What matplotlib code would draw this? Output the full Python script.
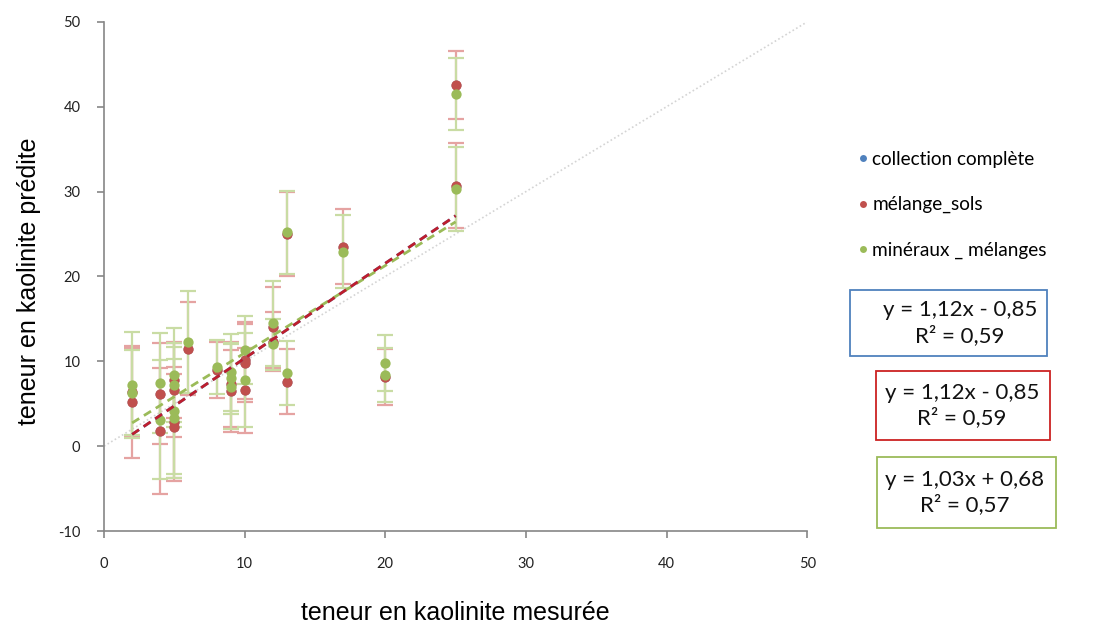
import matplotlib.pyplot as plt
from matplotlib.lines import Line2D
from matplotlib.patches import Rectangle

# measured kaolinite content (x) and predicted (y), with error bars
sols_x = [2, 2, 4, 4, 5, 5, 5, 5, 6, 8, 9, 9, 10, 10, 10, 12, 12, 13, 13, 17, 20, 25, 25]
sols_y = [6.4, 5.2, 6.2, 1.8, 7.8, 6.6, 2.8, 2.2, 11.5, 9.0, 7.3, 6.5, 10.1, 9.8, 6.6,
          14.0, 12.3, 7.6, 25.0, 23.5, 8.2, 42.6, 30.7]
sols_err = [5.2, 6.6, 6.0, 7.4, 4.5, 5.5, 6.5, 6.3, 5.5, 3.3, 5.0, 4.8, 4.5, 4.6, 5.0,
            4.8, 3.5, 3.8, 4.9, 4.4, 3.3, 4.0, 5.0]

mix_x = [2, 2, 4, 4, 5, 5, 5, 5, 6, 8, 9, 9, 9, 10, 10, 12, 12, 13, 13, 17, 20, 20, 25, 25]
mix_y = [7.2, 6.3, 7.4, 3.1, 8.4, 7.2, 4.2, 3.3, 12.3, 9.3, 8.7, 8.0, 7.0, 11.3, 7.8,
         14.5, 12.0, 8.6, 25.2, 22.9, 9.8, 8.4, 41.5, 30.3]
mix_err = [6.2, 5.0, 5.9, 7.0, 5.5, 5.0, 7.5, 7.0, 6.0, 3.2, 4.5, 4.2, 5.0, 4.0, 5.5,
           5.0, 3.0, 3.8, 4.9, 4.3, 3.3, 3.2, 4.2, 5.0]

# trendlines (slope, intercept) as reported in the chart
fit_all = (1.12, -0.85)
fit_sols = (1.12, -0.85)
fit_mix = (1.03, 0.68)
fit_range = [2, 25]

labels = ["collection complète", "mélange_sols", "minéraux _ mélanges"]
eq_texts = ["y = 1,12x - 0,85\nR² = 0,59",
            "y = 1,12x - 0,85\nR² = 0,59",
            "y = 1,03x + 0,68\nR² = 0,57"]

blue = "#4F81BD"
red = "#C0504D"
green = "#9BBB59"

plt.rcParams["font.family"] = ["Lato", "DejaVu Sans"]
plt.rcParams["axes.unicode_minus"] = False

fig = plt.figure(figsize=(11.04, 6.24), dpi=100)
ax = fig.add_axes([0.0942, 0.149, 0.637, 0.816])

# 1:1 line
ax.plot([0, 50], [0, 50], color="#D4D4D4", lw=1.2, ls=(0, (1, 1.5)), zorder=1)

# error bars
ax.errorbar(sols_x, sols_y, yerr=sols_err, fmt="none", ecolor="#E5A3A2",
            elinewidth=1.6, capsize=6, capthick=1.6, zorder=2)
ax.errorbar(mix_x, mix_y, yerr=mix_err, fmt="none", ecolor="#C9DCA4",
            elinewidth=1.6, capsize=6, capthick=1.6, zorder=3)

# points (complete collection is hidden under mélange_sols)
ax.plot(sols_x, sols_y, "o", color=blue, ms=7, mec="none", zorder=4)
ax.plot(sols_x, sols_y, "o", color=red, ms=7.4, mec="none", zorder=5)
ax.plot(mix_x, mix_y, "o", color=green, ms=7.4, mec="none", zorder=6)

# trendlines
def line(fit):
    return [fit[0] * v + fit[1] for v in fit_range]

ax.plot(fit_range, line(fit_all), color=blue, lw=2, ls=(0, (3, 2)), zorder=7)
ax.plot(fit_range, line(fit_mix), color=green, lw=2, ls=(0, (3, 2)), zorder=7)
ax.plot(fit_range, line(fit_sols), color="#BE1E2D", lw=2, ls=(0, (3, 2)), zorder=8)

ax.set_xlim(0, 50)
ax.set_ylim(-10, 50)
ax.set_xticks(range(0, 51, 10))
ax.set_yticks(range(-10, 51, 10))
for s in ["top", "right"]:
    ax.spines[s].set_visible(False)
for s in ["left", "bottom"]:
    ax.spines[s].set_color("#868686")
    ax.spines[s].set_linewidth(1.2)
ax.tick_params(axis="both", colors="#868686", length=5, width=1.2,
               labelcolor="#222222", labelsize=10.5)
ax.tick_params(axis="x", pad=14)
ax.tick_params(axis="y", pad=12)

ax.set_xlabel("teneur en kaolinite mesurée", fontsize=18,
              family=["Liberation Sans", "DejaVu Sans"])
ax.set_ylabel("teneur en kaolinite prédite", fontsize=18,
              family=["Liberation Sans", "DejaVu Sans"])
ax.xaxis.set_label_coords(0.5, -0.137)
ax.yaxis.set_label_coords(-0.09, 0.49)

handles = [Line2D([], [], ls="none", marker="o", ms=5, color=c, mec="none")
           for c in (blue, red, green)]
fig.legend(handles, labels, loc="upper left", bbox_to_anchor=(0.759, 0.786),
           frameon=False, fontsize=13.7, labelspacing=1.5, handletextpad=0.1,
           handlelength=0.8)

# equation boxes
boxes = [(850, 290, 197, 66, blue), (876, 371, 174, 69, "#CC2222"),
         (877, 457, 179, 71, green)]
text_cx = [960, 962, 965]
W, H = 1104.0, 624.0
for (x0, y0, w, h, c), cx, t in zip(boxes, text_cx, eq_texts):
    fig.patches.append(Rectangle((x0 / W, 1 - (y0 + h) / H), w / W, h / H,
                                 transform=fig.transFigure, fill=False,
                                 edgecolor=c, lw=1.3))
    fig.text(cx / W, 1 - (y0 + h / 2) / H, t, ha="center",
             va="center", fontsize=16, linespacing=1.3, color="#111111")

fig.savefig("out.png", dpi=100)
